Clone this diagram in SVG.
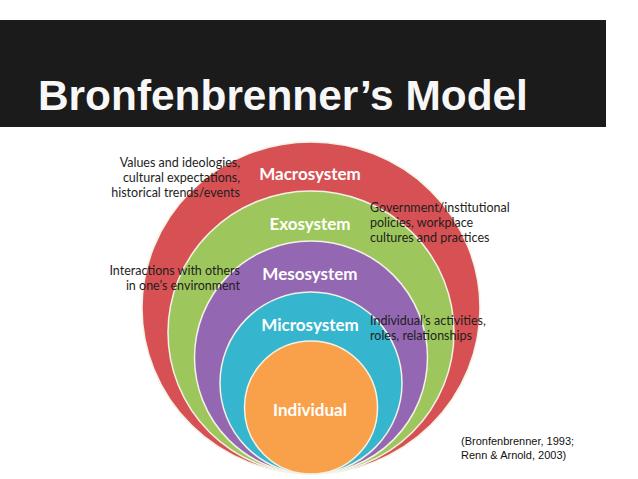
<svg xmlns="http://www.w3.org/2000/svg" width="638" height="479" viewBox="0 0 638 479">
<style>
.ring{stroke:#f4f1e6;stroke-width:1.5}
.rl{font-family:Lato,"Open Sans","Liberation Sans",sans-serif;font-weight:bold;font-size:17px;fill:#ffffff;text-anchor:middle}
.lab{font-family:Lato,"Open Sans","Liberation Sans",sans-serif;font-size:12.5px;fill:#1e1e1e}
.cite{font-family:"Liberation Sans",Arial,sans-serif;font-size:11px;fill:#111111}
</style>
<rect width="638" height="479" fill="#ffffff"/>
<g id="title">
<rect x="0" y="20" width="606" height="107" fill="#1b1b1b"/>
<text x="38" y="110" font-family="'Liberation Sans',Arial,sans-serif" font-weight="bold" font-size="42.4" fill="#f7f7f7">Bronfenbrenner’s Model</text>
</g>
<g id="macrosystem">
<ellipse class="ring" cx="311" cy="308" rx="169" ry="166" fill="#d75154"/>
<text class="rl" x="310" y="180">Macrosystem</text>
</g>
<g id="exosystem">
<ellipse class="ring" cx="311" cy="332.5" rx="143" ry="141.5" fill="#9dc75c"/>
<text class="rl" x="310" y="230">Exosystem</text>
</g>
<g id="mesosystem">
<circle class="ring" cx="311" cy="357.5" r="116.5" fill="#9467b2"/>
<text class="rl" x="310" y="280">Mesosystem</text>
</g>
<g id="microsystem">
<circle class="ring" cx="311" cy="383" r="91" fill="#36b5cf"/>
<text class="rl" x="310" y="331">Microsystem</text>
</g>
<g id="individual">
<circle class="ring" cx="311" cy="407.5" r="66.5" fill="#f9a14a"/>
<text class="rl" x="310" y="416">Individual</text>
</g>
<g id="macro-note">
<text class="lab" text-anchor="end" x="240" y="167">Values and ideologies,</text>
<text class="lab" text-anchor="end" x="240" y="182">cultural expectations,</text>
<text class="lab" text-anchor="end" x="240" y="197">historical trends/events</text>
</g>
<g id="exo-note">
<text class="lab" x="370" y="212">Government/institutional</text>
<text class="lab" x="370" y="227">policies, workplace</text>
<text class="lab" x="370" y="242">cultures and practices</text>
</g>
<g id="meso-note">
<text class="lab" text-anchor="end" x="240" y="275">Interactions with others</text>
<text class="lab" text-anchor="end" x="240" y="290">in one’s environment</text>
</g>
<g id="micro-note">
<text class="lab" x="370" y="325">Individual’s activities,</text>
<text class="lab" x="370" y="340">roles, relationships</text>
</g>
<g id="citation">
<text class="cite" x="461" y="445">(Bronfenbrenner, 1993;</text>
<text class="cite" x="461" y="459">Renn &amp; Arnold, 2003)</text>
</g>
</svg>
